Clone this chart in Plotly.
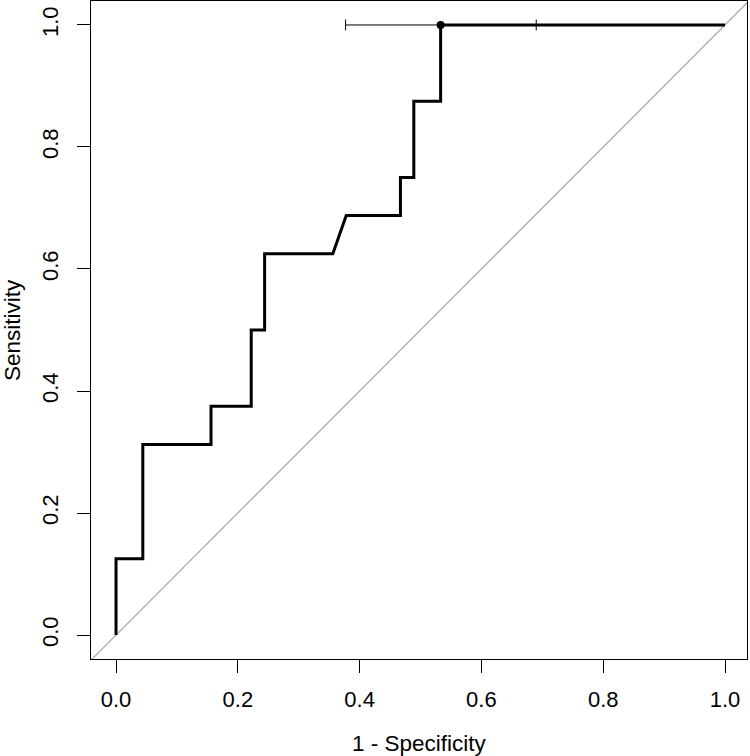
import plotly.graph_objects as go

# ROC curve (1 - specificity, sensitivity)
fpr = [0.0, 0.0, 0.044, 0.044, 0.156, 0.156, 0.222, 0.222, 0.244, 0.244,
       0.356, 0.378, 0.467, 0.467, 0.489, 0.489, 0.533, 0.533, 1.0]
tpr = [0.0, 0.125, 0.125, 0.3125, 0.3125, 0.375, 0.375, 0.5, 0.5, 0.625,
       0.625, 0.6875, 0.6875, 0.75, 0.75, 0.875, 0.875, 1.0, 1.0]

# Best threshold point and its CI on 1 - specificity
best_x = [0.533]
best_y = [1.0]
ci_low = [0.377]
ci_high = [0.690]

diag = [-0.1, 1.1]
tick_vals = [0.0, 0.2, 0.4, 0.6, 0.8, 1.0]
tick_text = ["0.0", "0.2", "0.4", "0.6", "0.8", "1.0"]

FONT = "Liberation Sans, Arial, sans-serif"

fig = go.Figure()
fig.add_trace(go.Scatter(x=diag, y=diag, mode="lines",
                         line=dict(color="#a6a6a6", width=1.2),
                         hoverinfo="skip", showlegend=False))
fig.add_trace(go.Scatter(x=fpr, y=tpr, mode="lines",
                         line=dict(color="black", width=3),
                         showlegend=False))
fig.add_trace(go.Scatter(
    x=best_x, y=best_y, mode="markers",
    marker=dict(color="black", size=8),
    error_x=dict(type="data", symmetric=False,
                 array=[h - b for h, b in zip(ci_high, best_x)],
                 arrayminus=[b - l for b, l in zip(best_x, ci_low)],
                 color="black", thickness=1, width=5.5),
    showlegend=False))

axis_common = dict(
    showgrid=False, zeroline=False, showline=True, mirror=True,
    linecolor="black", linewidth=1,
    ticks="outside", ticklen=13, tickwidth=1, tickcolor="black",
    tickvals=tick_vals, ticktext=tick_text,
    tickfont=dict(family=FONT, size=22, color="black"),
)

fig.update_layout(
    width=750, height=756,
    margin=dict(l=91, r=3, t=1, b=97),
    paper_bgcolor="white", plot_bgcolor="white",
    xaxis=dict(range=[-0.0411, 1.0361], ticklabelstandoff=8, **axis_common),
    yaxis=dict(range=[-0.0393, 1.0393], tickangle=-90, ticklabelstandoff=10, **axis_common),
    annotations=[
        dict(text="1 - Specificity", xref="paper", yref="paper", x=0.5, y=0,
             xanchor="center", yanchor="middle", yshift=-84, showarrow=False,
             font=dict(family=FONT, size=22.5, color="black")),
        dict(text="Sensitivity", xref="paper", yref="paper", x=0, y=0.5,
             xanchor="center", yanchor="middle", xshift=-79, textangle=-90,
             showarrow=False, font=dict(family=FONT, size=22.5, color="black")),
    ],
)

fig.write_html("out.html", config={"displayModeBar": False},
               post_script="document.body.style.margin='0';document.body.style.padding='0';")
